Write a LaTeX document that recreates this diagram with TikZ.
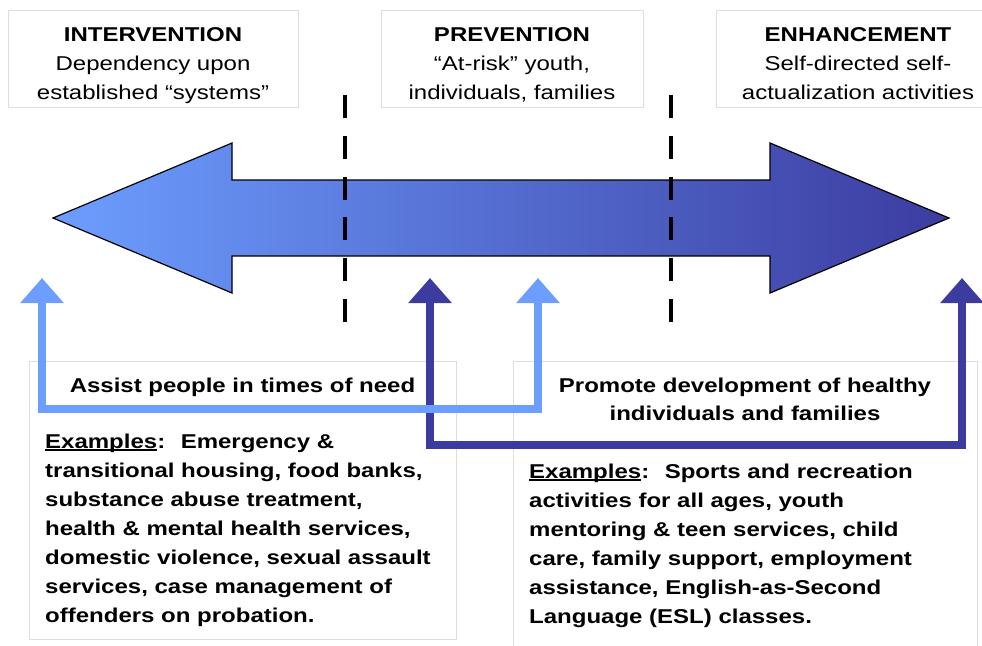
\documentclass[tikz,border=0pt]{standalone}
\usepackage{fontspec}
\setmainfont{Liberation Sans}[FakeStretch=1.2]
\usetikzlibrary{arrows.meta}
\definecolor{lightarr}{RGB}{108,158,255}
\definecolor{darkarr}{RGB}{60,60,160}
\definecolor{boxgray}{RGB}{222,222,222}
\newlength\undlen
\newcommand\undl[1]{\settowidth\undlen{#1}\rlap{\rule[-2.6pt]{\undlen}{1.5pt}}#1}

\begin{document}
\begin{tikzpicture}[x=1pt,y=-1pt,font=\fontsize{20}{29}\selectfont,
    box/.style={draw=boxgray,line width=0.8pt,inner sep=0pt,align=center},
    headfont/.style={font=\fontsize{20}{28}\selectfont\bfseries},
    examples/.style={anchor=base west,align=left,inner sep=0pt,font=\fontsize{20}{29}\selectfont\bfseries},
    divider/.style={line width=4pt,dash pattern=on 23pt off 17.8pt},
    bracket/.style={line width=8pt,arrows={Triangle[width=42pt,length=25pt]-Triangle[width=42pt,length=25pt]}}]
    \useasboundingbox (0,0) rectangle (982,645);
    \clip (0,0) rectangle (982,645);
    % the three levels
    \node[box,anchor=north,minimum width=290pt,text height=89pt,text depth=8pt] (interv) at (153,10)
        {\textbf{INTERVENTION}\\Dependency upon\\established “systems”};
    \node[box,anchor=north,minimum width=262pt,text height=89pt,text depth=8pt] (prev) at (512,10)
        {\textbf{PREVENTION}\\“At-risk” youth,\\individuals, families};
    \node[box,anchor=north,minimum width=284pt,text height=89pt,text depth=8pt] (enhance) at (858,10)
        {\textbf{ENHANCEMENT}\\Self-directed self-\\actualization activities};
    % continuum arrow
    \shadedraw[left color=lightarr,right color=darkarr,draw=black,line width=1.2pt]
        (53,218) -- (232,143) -- (232,180) -- (770,180) -- (770,143) -- (949,218)
        -- (770,293) -- (770,256) -- (232,256) -- (232,293) -- cycle;
    \draw[divider] (345,95) -- (345,322);
    \draw[divider] (671,95) -- (671,322);
    % the two fields of work
    \node[box,headfont,anchor=north,minimum width=427pt,text height=31pt,text depth=247pt] (assist) at (242.5,361)
        {Assist people in times of need};
    \node[box,headfont,anchor=north,minimum width=464pt,text height=59pt,text depth=240pt] (promote) at (745,361)
        {Promote development of healthy\\individuals and families};
    \node[examples] (assist-ex) at (45,622)
        {\undl{Examples}:~ Emergency \&\\
         transitional housing, food banks,\\
         substance abuse treatment,\\
         health \& mental health services,\\
         domestic violence, sexual assault\\
         services, case management of\\
         offenders on probation.};
    \node[examples] (promote-ex) at (529,623)
        {\undl{Examples}:~ Sports and recreation\\
         activities for all ages, youth\\
         mentoring \& teen services, child\\
         care, family support, employment\\
         assistance, English-as-Second\\
         Language (ESL) classes.};
    % brackets
    \coordinate (assist-l) at (42,278);
    \coordinate (assist-r) at (538,278);
    \coordinate (promote-l) at (430,278);
    \coordinate (promote-r) at (962,278);
    \draw[bracket,darkarr] (promote-l) -- (promote-l |- 0,445) -| (promote-r);
    \draw[bracket,lightarr] (assist-l) -- (assist-l |- 0,409) -| (assist-r);
\end{tikzpicture}
\end{document}
